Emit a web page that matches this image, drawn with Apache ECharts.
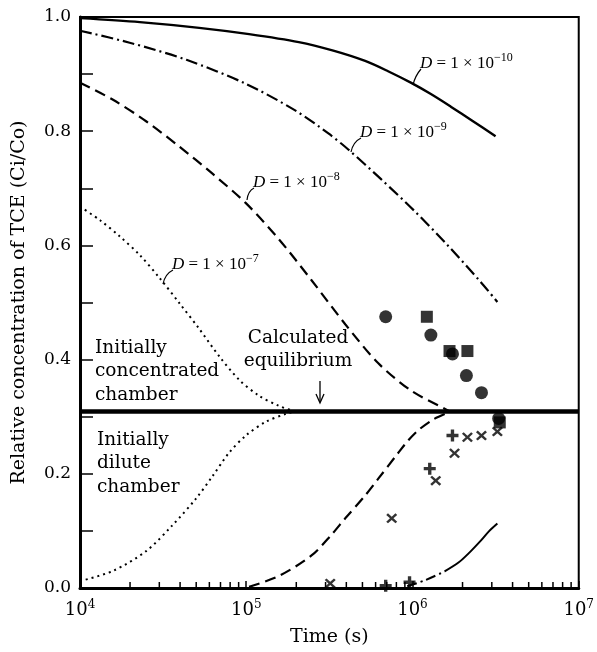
<!DOCTYPE html>
<html>
<head>
<meta charset="utf-8">
<script src="https://cdn.jsdelivr.net/npm/echarts@6/dist/echarts.min.js"></script>
<style>html,body{margin:0;padding:0;background:#fff;}#c{width:597px;height:652px;}</style>
</head>
<body>
<div id="c"></div>
<script>
// ---- data (time in s, relative concentration Ci/Co) ----
const eqValue = 0.309;
const xDecades = [1e4, 1e5, 1e6, 1e7];
const yTicks = [0, 0.2, 0.4, 0.6, 0.8, 1.0];

const d10Upper = [[1e4,0.998],[2.29e4,0.991],[5.21e4,0.981],[1.04e5,0.970],[2.07e5,0.956],[3.34e5,0.941],[5.19e5,0.923],[7.13e5,0.905],[9.77e5,0.885],[1.29e6,0.865],[1.70e6,0.843],[2.30e6,0.818],[3.16e6,0.791]];
const d10LowerDashDot = [[9.3e5,0.003],[1.2e6,0.014],[1.56e6,0.029]];
const d10Lower = [[1.56e6,0.029],[1.9e6,0.045],[2.2e6,0.062],[2.56e6,0.082],[2.9e6,0.1],[3.24e6,0.113]];
const d9Upper = [[1e4,0.976],[1.99e4,0.955],[4.37e4,0.925],[9.95e4,0.883],[1.98e5,0.836],[3.12e5,0.796],[4.11e5,0.768],[6.47e5,0.716],[1.03e6,0.660],[1.63e6,0.600],[2.57e6,0.536],[3.24e6,0.501]];
const d8Upper = [[1e4,0.885],[1.58e4,0.855],[2.51e4,0.817],[3.96e4,0.773],[6.24e4,0.726],[9.95e4,0.674],[1.57e5,0.611],[2.47e5,0.539],[3.94e5,0.462],[6.21e5,0.394],[9.77e5,0.346],[1.56e6,0.314],[1.68e6,0.309]];
const d8Lower = [[1.04e5,0.002],[1.57e5,0.021],[2.47e5,0.057],[3.25e5,0.093],[3.94e5,0.122],[5.19e5,0.162],[6.21e5,0.191],[8.18e5,0.236],[9.4e5,0.258],[1.08e6,0.276],[1.33e6,0.295],[1.63e6,0.307]];
const d7Upper = [[1e4,0.668],[1.32e4,0.644],[1.73e4,0.616],[2.29e4,0.583],[3.01e4,0.543],[3.96e4,0.499],[5.21e4,0.454],[6.87e4,0.406],[9.04e4,0.365],[1.19e5,0.337],[1.57e5,0.319],[1.93e5,0.310]];
const d7Lower = [[1e4,0.012],[1.58e4,0.030],[2.51e4,0.065],[3.6e4,0.110],[5.0e4,0.157],[6.24e4,0.195],[7.89e4,0.237],[9.95e4,0.267],[1.31e5,0.291],[1.73e5,0.305],[1.95e5,0.309]];

const circles = [[6.9e5,0.475],[1.29e6,0.443],[1.74e6,0.41],[2.11e6,0.372],[2.6e6,0.342],[3.3e6,0.297]];
const squares = [[1.22e6,0.475],[1.67e6,0.415],[2.14e6,0.415],[3.35e6,0.29]];
const pluses = [[6.9e5,0.004],[9.6e5,0.01],[1.27e6,0.209],[1.74e6,0.267]];
const crosses = [[3.2e5,0.008],[7.5e5,0.122],[1.38e6,0.188],[1.79e6,0.236],[2.14e6,0.264],[2.6e6,0.267],[3.24e6,0.274]];

const minorMultipliers = [2,3,4,5,6,7,8,9];
const minorTicks = [];
xDecades.slice(0,3).forEach(d => minorMultipliers.forEach(m => minorTicks.push(d*m)));

const serif = 'DejaVu Serif';
const times = 'Liberation Serif';

const plusPath = 'path://M3.6,0H6.4V3.6H10V6.4H6.4V10H3.6V6.4H0V3.6H3.6Z';
const crossPath = 'path://M0,1.6L1.6,0L5,3.4L8.4,0L10,1.6L6.6,5L10,8.4L8.4,10L5,6.6L1.6,10L0,8.4L3.4,5Z';

function line(data, type, width) {
  return {type:'line', data, symbol:'none', smooth:0.3, clip:true, silent:true,
    lineStyle:{color:'#000', width:width||2, type:type}};
}

const dLabelRich = {
  i:{fontFamily:times, fontStyle:'italic', fontSize:17, color:'#000', lineHeight:20, verticalAlign:'bottom'},
  n:{fontFamily:times, fontSize:17, color:'#000', lineHeight:20, verticalAlign:'bottom'},
  s:{fontFamily:times, fontSize:12, color:'#000', lineHeight:20, verticalAlign:'top'}
};
function dLabel(x, y, exp) {
  return {type:'text', x, y, style:{text:'{i|D}{n| = 1 × 10}{s|−' + exp + '}', rich:dLabelRich, textVerticalAlign:'middle'}};
}
function hook(x1,y1,x2,y2,cx,cy){
  return {type:'bezierCurve', shape:{x1,y1,x2,y2,cpx1:cx,cpy1:cy}, style:{stroke:'#000', lineWidth:1.2, fill:null}};
}
function note(x, y, text, align) {
  return {type:'text', x, y, style:{text, fontFamily:serif, fontSize:18.5, lineHeight:23.5, fill:'#000', textAlign:align||'left'}};
}

const chart = echarts.init(document.getElementById('c'), null, {renderer:'canvas'});
chart.setOption({
  animation:false,
  backgroundColor:'#fff',
  grid:{left:80, right:15, top:17, bottom:62, show:true, borderColor:'#000', borderWidth:2},
  xAxis:{type:'log', logBase:10, min:1e4, max:1e7,
    name:'Time (s)', nameLocation:'middle', nameGap:40,
    nameTextStyle:{fontFamily:serif, fontSize:19, color:'#000'},
    axisLine:{lineStyle:{color:'#000', width:3}},
    axisTick:{show:true, inside:true, length:7, lineStyle:{color:'#000', width:1.5}},
    splitLine:{show:false},
    axisLabel:{margin:11, color:'#000',
      formatter: v => '{b|10}{s|' + Math.round(Math.log10(v)) + '}',
      rich:{b:{fontFamily:serif, fontSize:18, color:'#000', lineHeight:20, verticalAlign:'bottom'},
            s:{fontFamily:serif, fontSize:12, color:'#000', lineHeight:20, verticalAlign:'top'}}}
  },
  yAxis:{type:'value', min:0, max:1, interval:0.2,
    name:'Relative concentration of TCE (Ci/Co)', nameLocation:'middle', nameGap:51,
    nameTextStyle:{fontFamily:serif, fontSize:19, color:'#000'},
    axisLine:{show:true, lineStyle:{color:'#000', width:3}},
    axisTick:{show:true, inside:true, length:13, lineStyle:{color:'#000', width:1.5}},
    minorTick:{show:true, splitNumber:2, length:13, lineStyle:{color:'#000', width:1.5}},
    splitLine:{show:false},
    axisLabel:{margin:9, color:'#000', fontFamily:serif, fontSize:17, formatter: v => v.toFixed(1)}
  },
  series:[
    {type:'line', data:[[1e4,eqValue],[1e7,eqValue]], symbol:'none', silent:true, lineStyle:{color:'#000', width:4.5}},
    line(d10Upper, 'solid', 2.4),
    line(d10LowerDashDot, [10,4,2,4], 2),
    line(d10Lower, 'solid', 2),
    line(d9Upper, [12,4,2,4], 2.2),
    line(d8Upper, [11,6], 2.2),
    line(d8Lower, [11,6], 2.2),
    line(d7Upper, [2,4], 2),
    line(d7Lower, [2,4], 2),
    {type:'custom', silent:true, data:minorTicks.map(v => [v, 0]),
      renderItem:(params, api) => {
        const p = api.coord([api.value(0), 0]);
        return {type:'line', shape:{x1:p[0], y1:p[1], x2:p[0], y2:p[1]-6}, style:{stroke:'#000', lineWidth:1.5}};
      }},
    {type:'scatter', data:circles, symbol:'circle', symbolSize:13, itemStyle:{color:'#000'}, silent:true},
    {type:'scatter', data:squares, symbol:'rect', symbolSize:12, itemStyle:{color:'#000'}, silent:true},
    {type:'scatter', data:pluses, symbol:plusPath, symbolSize:12, itemStyle:{color:'#000'}, silent:true},
    {type:'scatter', data:crosses, symbol:crossPath, symbolSize:[11,10], itemStyle:{color:'#000'}, silent:true}
  ],
  graphic:[
    dLabel(420, 62, '10'), hook(421,69,413,85,415,76),
    dLabel(360, 131, '9'), hook(361,138,351,152,353,142),
    dLabel(253, 181, '8'), hook(254,188,247,200,248,191),
    dLabel(172, 263, '7'), hook(173,270,163,284,165,274),
    note(95, 336, 'Initially\nconcentrated\nchamber'),
    note(97, 428, 'Initially\ndilute\nchamber'),
    note(298, 326, 'Calculated\nequilibrium', 'center'),
    {type:'line', shape:{x1:320, y1:381, x2:320, y2:402}, style:{stroke:'#000', lineWidth:1.3}},
    {type:'polyline', shape:{points:[[316,394],[320,403],[324,394]]}, style:{stroke:'#000', lineWidth:1.3, fill:null}}
  ]
});
</script>
</body>
</html>
